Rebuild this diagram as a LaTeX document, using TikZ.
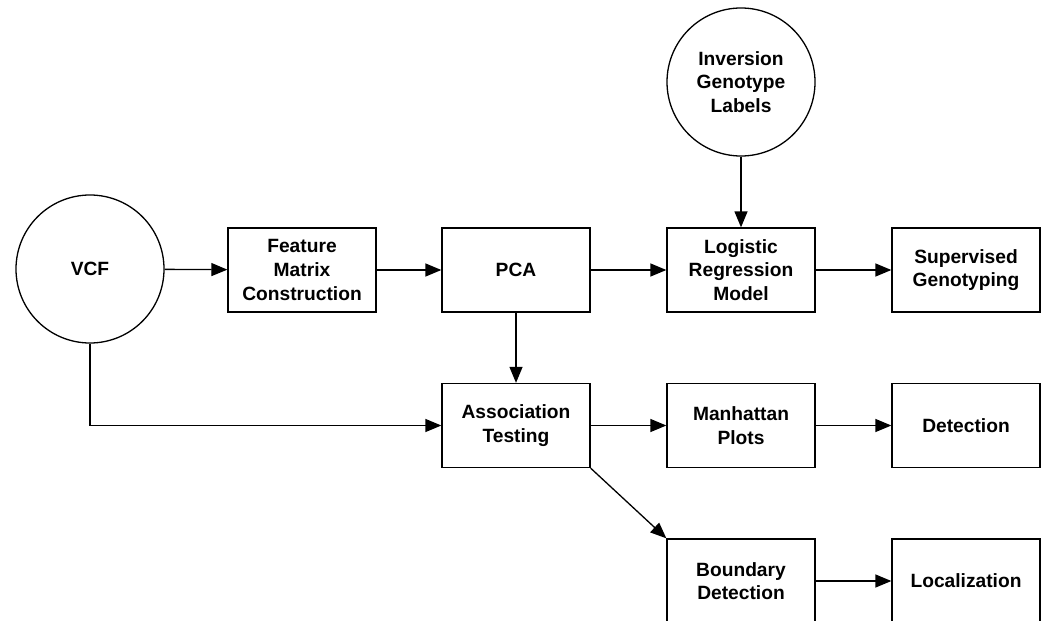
\documentclass[tikz,border=0pt]{standalone}
\usepackage{fontspec}
\setmainfont{Liberation Sans}
\usetikzlibrary{arrows.meta}

\tikzset{
  stage/.style={draw,line width=.65pt,minimum width=74pt,minimum height=42pt,align=center,inner sep=2pt},
  source/.style={draw,circle,line width=.65pt,minimum size=74pt,align=center,inner sep=0pt},
  flow/.style={line width=.65pt,-{Triangle[length=8pt,width=6.5pt]}}
}

\begin{document}
\begin{tikzpicture}[x=.5pt,y=-.5pt,font=\fontsize{9.6}{11.8}\selectfont\bfseries]
  \useasboundingbox (0,0) rectangle (1047,620);

  \node[source] (vcf) at (90,269) {VCF};
  \node[source] (labels) at (741,82) {Inversion\\Genotype\\Labels};

  \node[stage] (feat) at (302,270) {Feature\\Matrix\\Construction};
  \node[stage] (pca) at (516,270) {PCA};
  \node[stage] (logit) at (741,270) {Logistic\\Regression\\Model};
  \node[stage] (superv) at (966,270) {Supervised\\Genotyping};

  \node[stage] (assoc) at (516,425.5) {Association\\Testing};
  \node[stage] (manh) at (741,425.5) {Manhattan\\Plots};
  \node[stage] (detect) at (966,425.5) {Detection};

  \node[stage] (bound) at (741,581) {Boundary\\Detection};
  \node[stage] (local) at (966,581) {Localization};

  \draw[flow] (vcf) -- (feat);
  \draw[flow] (feat) -- (pca);
  \draw[flow] (pca) -- (logit);
  \draw[flow] (logit) -- (superv);
  \draw[flow] (labels) -- (logit);
  \draw[flow] (pca) -- (assoc);
  \draw[flow] (vcf.south) |- (assoc.west);
  \draw[flow] (assoc) -- (manh);
  \draw[flow] (manh) -- (detect);
  \draw[flow] (assoc.south east) -- (bound.north west);
  \draw[flow] (bound) -- (local);
\end{tikzpicture}
\end{document}
